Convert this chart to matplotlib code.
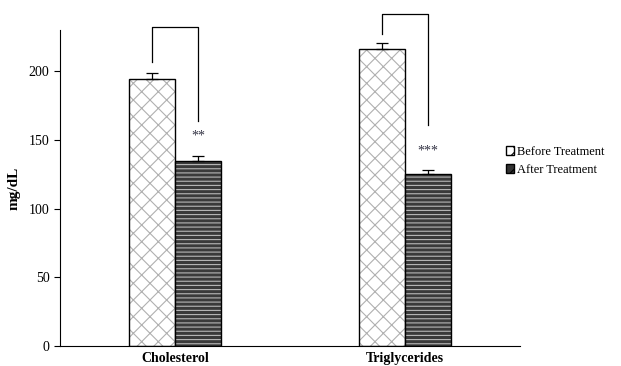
import numpy as np
from matplotlib import pyplot as plt
from matplotlib.patches import Patch

plt.rcParams['font.family'] = ['Liberation Serif', 'DejaVu Serif']
plt.rcParams['hatch.linewidth'] = 0.8

categories = ['Cholesterol', 'Triglycerides']
before = [194, 216]
before_err = [4.5, 4.5]
after = [135, 125]
after_err = [3.5, 3]
stars = ['**', '***']

fig = plt.figure(figsize=(6.21, 3.66), dpi=100)
ax = fig.add_axes([0.0966, 0.0546, 0.7404, 0.8634])

x = np.arange(len(categories))
w = 0.2

# hatch layer then outline layer
ax.bar(x - w / 2, before, w, color='white', edgecolor='#b0b0b0', hatch='xx', linewidth=0)
ax.bar(x - w / 2, before, w, color='none', edgecolor='black', linewidth=1.0)
ax.bar(x + w / 2, after, w, color='#3a3a3a', edgecolor='#b8b8b8', hatch='----', linewidth=0)
ax.bar(x + w / 2, after, w, color='none', edgecolor='black', linewidth=1.0)

ax.errorbar(x - w / 2, before, yerr=[np.zeros(2), before_err], fmt='none',
            ecolor='black', elinewidth=0.9, capsize=4, capthick=0.9)
ax.errorbar(x + w / 2, after, yerr=[np.zeros(2), after_err], fmt='none',
            ecolor='black', elinewidth=0.9, capsize=4, capthick=0.9)

# significance brackets
br_top = [232, 242]
br_left_low = [207, 227]
br_right_low = [164, 161]
star_y = [153, 142]
for i in range(len(categories)):
    ax.plot([x[i] - w / 2, x[i] - w / 2, x[i] + w / 2, x[i] + w / 2],
            [br_left_low[i], br_top[i], br_top[i], br_right_low[i]],
            color='black', lw=0.9, clip_on=False)
    ax.text(x[i] + w / 2, star_y[i], stars[i], ha='center', va='center',
            fontsize=10, color='#333344')

ax.set_xlim(-0.5, 1.5)
ax.set_ylim(0, 230)
ax.set_yticks([0, 50, 100, 150, 200])
ax.set_xticks(x)
ax.set_xticklabels(categories, fontweight='bold', fontsize=10)
ax.tick_params(axis='x', length=0, pad=4)
ax.tick_params(axis='y', labelsize=10, length=4, width=0.8)
ax.set_ylabel('mg/dL', fontweight='bold', fontsize=11, labelpad=6)
ax.spines['top'].set_visible(False)
ax.spines['right'].set_visible(False)

handles = [Patch(facecolor='white', edgecolor='black', hatch='xx', label='Before Treatment'),
           Patch(facecolor='#333333', edgecolor='black', hatch='xx', label='After Treatment')]
fig.legend(handles=handles, loc='center left', bbox_to_anchor=(0.81, 0.56),
           frameon=False, fontsize=9, handlelength=0.7, handleheight=0.7,
           handletextpad=0.25, labelspacing=0.5, borderaxespad=0, borderpad=0.2)

fig.savefig('out.png', dpi=100)
